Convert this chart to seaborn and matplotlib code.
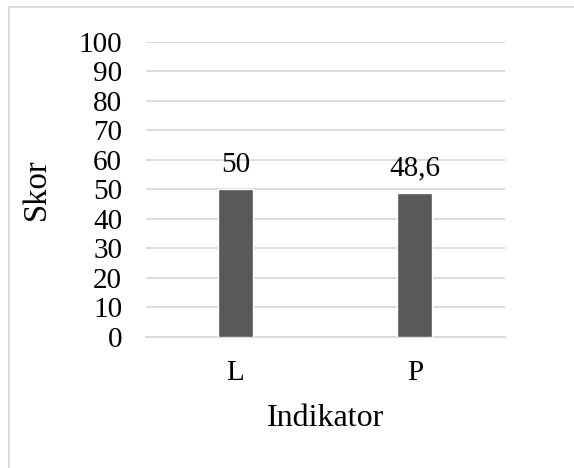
import matplotlib
matplotlib.use("Agg")
import matplotlib.pyplot as plt
import seaborn as sns
import pandas as pd
from matplotlib.patches import Rectangle

# Data
categories = ["L", "P"]
scores = [50, 48.6]
y_ticks = list(range(0, 101, 10))

df = pd.DataFrame({"Indikator": categories, "Skor": scores})

sns.set_theme(style="white")
plt.rcParams["font.family"] = ["Liberation Serif", "DejaVu Serif"]

fig = plt.figure(figsize=(5.74, 4.68), dpi=100)
ax = fig.add_axes([0.2538, 0.2806, 0.8793 - 0.2538, 0.9103 - 0.2806])

sns.barplot(data=df, x="Indikator", y="Skor", color="#595959", width=0.195,
            saturation=1, ax=ax, zorder=3)

ax.set_ylim(0, 100)
ax.set_yticks(y_ticks)
ax.yaxis.grid(True, color="#d9d9d9", linewidth=1.3, zorder=0)
ax.xaxis.grid(False)
for side in ["top", "right", "left"]:
    ax.spines[side].set_visible(False)
ax.spines["bottom"].set_color("#d9d9d9")
ax.spines["bottom"].set_linewidth(1.3)
ax.tick_params(axis="y", length=0, pad=17, labelsize=21, colors="black")
ax.tick_params(axis="x", length=0, pad=17, labelsize=21, colors="black")

ax.set_xlabel("Indikator", fontsize=23, labelpad=13, color="black")
ax.set_ylabel("Skor", fontsize=23.5, labelpad=19, color="black")

# Value labels with comma decimal separator
labels = [format(v, "g").replace(".", ",") for v in scores]
ax.bar_label(ax.containers[0], labels=labels, padding=8.5, fontsize=21, color="black")

# Chart area border
fig.patches.append(Rectangle((9 / 574, -0.1), 1.1, 1 - 7 / 468 + 0.1,
                             transform=fig.transFigure, fill=False,
                             edgecolor="#d9d9d9", linewidth=1.3))

fig.savefig("out.png", dpi=100)
